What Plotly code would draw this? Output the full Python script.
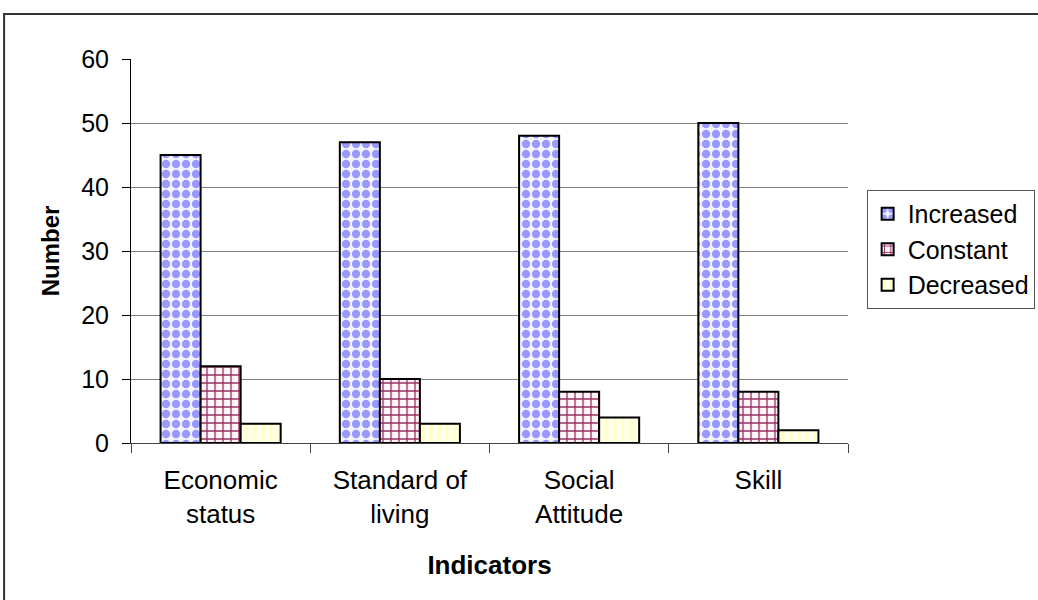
import plotly.graph_objects as go

categories = ["Economic<br>status", "Standard of<br>living", "Social<br>Attitude", "Skill"]
increased = [45, 47, 48, 50]
constant = [12, 10, 8, 8]
decreased = [3, 3, 4, 2]
y_ticks = [0, 10, 20, 30, 40, 50, 60]

FONT = "Arial, Liberation Sans, sans-serif"

fig = go.Figure()
fig.add_trace(go.Bar(
    name="Increased", x=categories, y=increased,
    marker=dict(color="white", line=dict(color="black", width=2),
                pattern=dict(shape=".", fgcolor="#9999FF", bgcolor="#F4F4FF",
                             size=10, solidity=0.55, fillmode="replace")),
))
fig.add_trace(go.Bar(
    name="Constant", x=categories, y=constant,
    marker=dict(color="white", line=dict(color="black", width=2),
                pattern=dict(shape="+", fgcolor="#993366", bgcolor="#FFF4F8",
                             size=8, solidity=0.3, fillmode="replace")),
))
fig.add_trace(go.Bar(
    name="Decreased", x=categories, y=decreased,
    marker=dict(color="#FFFFE0", line=dict(color="black", width=2),
                pattern=dict(shape="|", fgcolor="#FFFFC4", bgcolor="#FFFFEA",
                             size=8, solidity=0.35, fillmode="replace")),
))

fig.update_layout(
    width=1038, height=600,
    margin=dict(l=131, r=190, t=59, b=157, autoexpand=False),
    paper_bgcolor="white", plot_bgcolor="white",
    barmode="group", bargap=0.33, bargroupgap=0,
    font=dict(family=FONT, color="black", size=26),
    showlegend=True,
    legend=dict(x=1.026, y=0.659, xanchor="left", yanchor="top",
                bordercolor="#555555", borderwidth=1, bgcolor="white",
                font=dict(size=25, family=FONT), tracegroupgap=0,
                itemsizing="constant", itemwidth=30),
    xaxis=dict(
        showline=True, linecolor="#444444", linewidth=1,
        ticks="outside", tickson="boundaries", ticklen=9, tickcolor="#444444",
        tickfont=dict(size=26), showgrid=False, ticklabelstandoff=14,
        title=dict(text="<b>Indicators</b>", font=dict(size=26), standoff=27),
    ),
    yaxis=dict(
        range=[0, 60], tickvals=y_ticks, showline=True, linecolor="black", linewidth=1,
        ticks="outside", ticklen=8, tickcolor="black", ticklabelstandoff=8,
        tickfont=dict(size=25), showgrid=True, gridcolor="#808080", gridwidth=1,
        zeroline=False,
        title=dict(text="<b>Number</b>", font=dict(size=24), standoff=14),
    ),
    shapes=[dict(type="rect", xref="paper", yref="paper",
                 x0=-0.177, x1=1.28, y0=-0.45, y1=1.117,
                 line=dict(color="#333333", width=2), fillcolor="rgba(0,0,0,0)",
                 layer="below")],
)

fig.write_html("out.html",
               config={"displayModeBar": False},
               post_script="document.body.style.margin='0';document.body.style.overflow='hidden';")
